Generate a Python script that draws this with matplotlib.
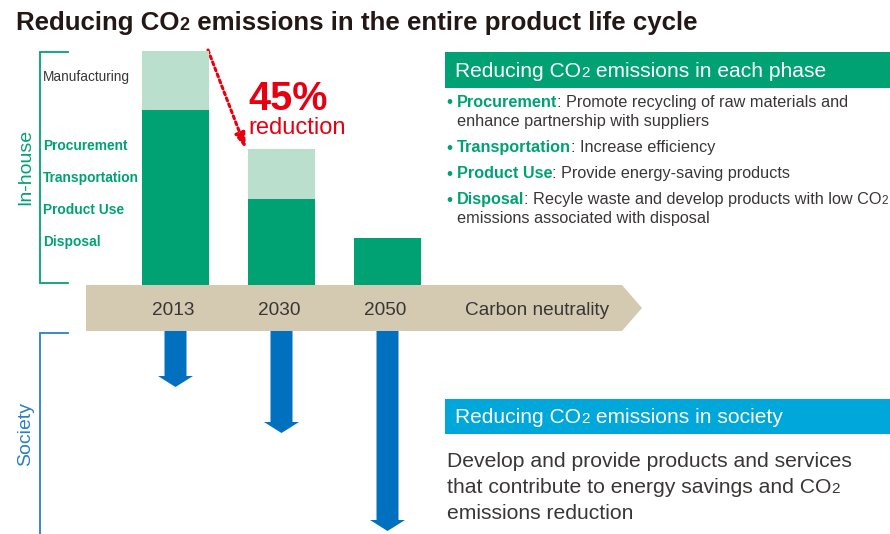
import matplotlib
matplotlib.use("Agg")
import matplotlib.pyplot as plt
from matplotlib.patches import Polygon, Rectangle
from matplotlib.transforms import blended_transform_factory

# ---------------- data ----------------
years = ["2013", "2030", "2050"]
inhouse_core = [74.8, 36.8, 20.1]        # procurement/transport/use/disposal (dark green)
inhouse_manuf = [25.2, 21.3, 0.0]        # manufacturing (light green)
society_reduction = [56, 102, 200]       # length of society reduction arrows
end_label = "Carbon neutrality"
reduction_pct = "45%"
phase_labels = ["Procurement", "Transportation", "Product Use", "Disposal"]
bullets = [
    ("Procurement", ": Promote recycling of raw materials and", ["enhance partnership with suppliers"]),
    ("Transportation", ": Increase efficiency", []),
    ("Product Use", ": Provide energy-saving products", []),
    ("Disposal", ": Recyle waste and develop products with low CO", ["emissions associated with disposal"]),
]
society_text = ["Develop and provide products and services",
                "that contribute to energy savings and CO",
                "emissions reduction"]

# ---------------- style ----------------
GREEN = "#00a274"
LIGHT = "#bbdfcd"
BEIGE = "#d4c9b1"
BLUE = "#0070bf"
CYAN = "#00a7da"
RED = "#e60012"
GRAY = "#3a3636"
FONT = "Liberation Sans"
plt.rcParams["font.family"] = [FONT, "DejaVu Sans"]

W, H = 890, 534
fig = plt.figure(figsize=(W / 100, H / 100), dpi=100)
ax = fig.add_axes([0, 0, 1, 1])
ax.set_xlim(0, W)
ax.set_ylim(H, 0)
ax.axis("off")
renderer = fig.canvas.get_renderer()


def width_of(s, **kw):
    t1 = ax.text(0, 0, s + "|", **kw)
    w1 = t1.get_window_extent(renderer).width
    t1.remove()
    t2 = ax.text(0, 0, "|", **kw)
    w2 = t2.get_window_extent(renderer).width
    t2.remove()
    return w1 - w2


def rich(x, y, parts):
    for s, kw in parts:
        ax.text(x, y, s, va="baseline", ha="left", **kw)
        x += width_of(s, **kw)
    return x


# ---------------- title ----------------
tkw = dict(fontsize=18.6, fontweight="bold", color="#231815")
rich(16, 30, [("Reducing CO", tkw), ("2", dict(tkw, fontsize=13)),
              (" emissions in the entire product life cycle", tkw)])

# ---------------- in-house bars ----------------
xl, xr = 122.5, 440.5
axb = fig.add_axes([xl / W, (H - 285) / H, (xr - xl) / W, 234 / H])
axb.set_xlim(-0.5, 2.5)
axb.set_ylim(0, 100)
axb.axis("off")
pos = list(range(len(years)))
axb.bar(pos, inhouse_core, width=0.632, color=GREEN, linewidth=0)
axb.bar(pos, inhouse_manuf, bottom=inhouse_core, width=0.632, color=LIGHT, linewidth=0)

# ---------------- timeline band ----------------
band = Polygon([(86, 285), (622, 285), (642, 308), (622, 331), (86, 331)],
               closed=True, facecolor=BEIGE, edgecolor="none", zorder=1)
ax.add_patch(band)
bt = blended_transform_factory(axb.transData, ax.transData)
for i, y in enumerate(years):
    ax.text(i - 0.02, 315, y, transform=bt, ha="center", va="baseline",
            fontsize=13.7, color=GRAY, zorder=3)
ax.text(537.5, 315, end_label, ha="center", va="baseline", fontsize=13.7, color=GRAY, zorder=3)

# ---------------- society arrows ----------------
axs = fig.add_axes([xl / W, 0, (xr - xl) / W, 203 / H])
axs.set_xlim(-0.5, 2.5)
axs.set_ylim(203, 0)
axs.axis("off")
sw, hw, hl = 11 / 106, 17.5 / 106, 11
for i, L in enumerate(society_reduction):
    pts = [(i - sw, 0), (i + sw, 0), (i + sw, L - hl), (i + hw, L - hl),
           (i, L), (i - hw, L - hl), (i - sw, L - hl)]
    axs.add_patch(Polygon(pts, closed=True, facecolor=BLUE, edgecolor="none"))

# ---------------- brackets ----------------
ax.plot([68, 40, 40, 68], [52, 52, 283, 283], color=GREEN, lw=1.3, solid_joinstyle="miter")
ax.plot([68, 40, 40], [333, 333, 540], color="#2a80c6", lw=1.3, solid_joinstyle="miter")
ax.text(26, 167, "In-house", rotation=90, ha="center", va="center", fontsize=14, color=GREEN)
ax.text(26, 434, "Society", rotation=90, ha="center", va="center", fontsize=14, color="#2a80c6")

ax.text(43, 81, "Manufacturing", fontsize=9.8, color=GRAY, va="baseline")
for k, lab in enumerate(phase_labels):
    ax.text(43, 150 + 32 * k, lab, fontsize=9.9, fontweight="bold", color=GREEN, va="baseline")

# ---------------- 45% reduction ----------------
ax.annotate("", xy=(246, 149), xytext=(208, 50),
            arrowprops=dict(arrowstyle="-|>,head_length=0.9,head_width=0.3", color=RED,
                            lw=2.2, linestyle=(0, (1.0, 1.1)), shrinkA=0, shrinkB=0))
ax.text(248, 110, reduction_pct, fontsize=28.5, fontweight="bold", color=RED, va="baseline")
ax.text(248, 134, "reduction", fontsize=17, color=RED, va="baseline")

# ---------------- each phase box ----------------
ax.add_patch(Rectangle((445, 52), 450, 36, facecolor=GREEN, edgecolor="none"))
hk = dict(fontsize=15.1, color="white")
rich(455, 77, [("Reducing CO", hk), ("2", dict(hk, fontsize=11)), (" emissions in each phase", hk)])

bk = dict(fontsize=11.7, color=GREEN, fontweight="bold")
nk = dict(fontsize=11.7, color=GRAY)
base = [107, 152, 178, 204]
for (head, rest, cont), yb in zip(bullets, base):
    ax.text(449.5, yb + 0.5, "•", fontsize=12.5, color=GREEN, ha="center", va="baseline")
    parts = [(head, bk), (rest, nk)]
    if rest.endswith("CO"):
        parts.append(("2", dict(nk, fontsize=8.5)))
    rich(457, yb, parts)
    for j, c in enumerate(cont):
        ax.text(457, yb + 19 * (j + 1), c, va="baseline", **nk)

# ---------------- society box ----------------
ax.add_patch(Rectangle((445, 399), 450, 35, facecolor=CYAN, edgecolor="none"))
rich(455, 423, [("Reducing CO", hk), ("2", dict(hk, fontsize=11)), (" emissions in society", hk)])
pk = dict(fontsize=15.2, color=GRAY)
for j, line in enumerate(society_text):
    yb = 467 + 26 * j
    parts = [(line, pk)]
    if line.endswith("CO"):
        parts.append(("2", dict(pk, fontsize=11)))
    rich(447, yb, parts)

fig.savefig("out.png", dpi=100)
